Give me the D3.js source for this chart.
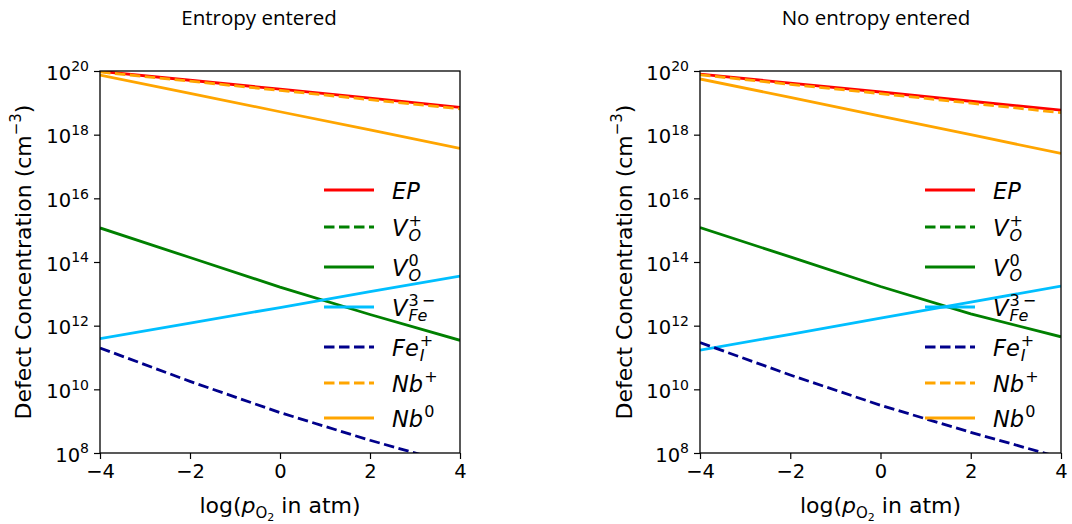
<!DOCTYPE html>
<html>
<head>
<meta charset="utf-8">
<script src="https://cdn.jsdelivr.net/npm/d3@7"></script>
<style>
  body { margin: 0; background: #fff; }
  text { fill: #000; }
</style>
</head>
<body>
<div id="container"></div>
<script>
/* CONSTANTS AND GLOBALS */
const width = 1072, height = 524;

// x values: log(pO2 in atm)
const logP = [-4, -2, 0, 2, 4];

// log10 of defect concentration (cm^-3)
// left panel - entropy entered
const epA   = [19.99, 19.71, 19.43, 19.15, 18.86];
const voPA  = [6.6, 6.0, 5.4, 4.8, 4.2];   // sits under the 1e8 floor
const vo0A  = [15.07, 14.14, 13.21, 12.35, 11.54];
const vfeA  = [11.59, 12.08, 12.57, 13.07, 13.56];
const feiA  = [11.30, 10.25, 9.27, 8.40, 7.60];
const nbPA  = [19.97, 19.68, 19.39, 19.10, 18.81];
const nb0A  = [19.87, 19.30, 18.72, 18.15, 17.57];

// right panel - no entropy entered
const epB   = [19.90, 19.62, 19.34, 19.05, 18.77];
const voPB  = [6.5, 5.9, 5.3, 4.7, 4.1];
const vo0B  = [15.08, 14.16, 13.23, 12.37, 11.65];
const vfeB  = [11.23, 11.73, 12.24, 12.74, 13.24];
const feiB  = [11.47, 10.45, 9.50, 8.65, 7.85];
const nbPB  = [19.88, 19.58, 19.29, 18.99, 18.69];
const nb0B  = [19.75, 19.17, 18.58, 18.00, 17.41];

const titles = ["Entropy entered", "No entropy entered"];
const xTicks = [-4, -2, 0, 2, 4];
const yTickExp = [8, 10, 12, 14, 16, 18, 20];

// legend labels: main / subscript / superscript
const labels = [
  {main: "EP"},
  {main: "V", sub: "O", sup: "+"},
  {main: "V", sub: "O", sup: "0"},
  {main: "V", sub: "Fe", sup: "3\u2009\u2212"},
  {main: "Fe", sub: "I", sup: "+"},
  {main: "Nb", sup: "+"},
  {main: "Nb", sup: "0"}
];
const colors = ["#ff0000", "#008000", "#008000", "#00bfff", "#00008b", "#ffa500", "#ffa500"];
const dashed = [false, true, false, false, true, true, false];

const panels = [
  {ox: 100, pw: 360, titleX: 259, labelX: 31, data: [epA, voPA, vo0A, vfeA, feiA, nbPA, nb0A]},
  {ox: 700, pw: 361, titleX: 876, labelX: 632, data: [epB, voPB, vo0B, vfeB, feiB, nbPB, nb0B]}
];
const plotTop = 71, ph = 382;
const lw = 2.8;

const svg = d3.select("#container").append("svg")
  .attr("width", width).attr("height", height);

const legendY = [190, 227, 267, 307, 347, 383, 418];

panels.forEach((p, pi) => {
  const xScale = d3.scaleLinear().domain([-4, 4]).range([0, p.pw]);
  const yScale = d3.scaleLog().domain([1e8, 1e20]).range([ph, 0]);

  const g = svg.append("g").attr("transform", `translate(${p.ox},${plotTop})`);

  g.append("clipPath").attr("id", "clip" + pi)
    .append("rect").attr("width", p.pw).attr("height", ph);

  const lineGen = d3.line()
    .x((d, i) => xScale(logP[i]))
    .y(d => yScale(Math.pow(10, d)));

  const lines = g.append("g").attr("clip-path", `url(#clip${pi})`);
  p.data.forEach((s, i) => {
    lines.append("path")
      .datum(s)
      .attr("fill", "none")
      .attr("stroke", colors[i])
      .attr("stroke-width", lw)
      .attr("stroke-dasharray", dashed[i] ? "10.5,4.5" : null)
      .attr("d", lineGen);
  });

  // axes
  const yAxis = d3.axisLeft(yScale)
    .tickValues(yTickExp.map(e => Math.pow(10, e)))
    .tickSize(6).tickPadding(5)
    .tickFormat(() => "");
  const ya = g.append("g").call(yAxis);
  ya.select(".domain").remove();
  ya.selectAll(".tick line").attr("stroke", "#000").attr("stroke-width", 1.2);
  ya.selectAll(".tick text")
    .attr("font-family", "DejaVu Sans").attr("font-size", 19.5)
    .attr("dy", "0.42em")
    .each(function(d) {
      const t = d3.select(this);
      t.append("tspan").text("10");
      t.append("tspan").attr("font-size", 14).attr("dy", -8.5)
        .text(Math.round(Math.log10(d)));
    });

  const xAxis = d3.axisBottom(xScale)
    .tickValues(xTicks).tickSize(6).tickPadding(5)
    .tickFormat(d => d < 0 ? "\u2212" + Math.abs(d) : d);
  const xa = g.append("g").attr("transform", `translate(0,${ph})`).call(xAxis);
  xa.select(".domain").remove();
  xa.selectAll(".tick line").attr("stroke", "#000").attr("stroke-width", 1.2);
  xa.selectAll(".tick text").attr("font-family", "DejaVu Sans").attr("font-size", 19.5);

  g.append("rect")
    .attr("width", p.pw).attr("height", ph)
    .attr("fill", "none").attr("stroke", "#000").attr("stroke-width", 1.3);

  // legend, no frame
  const lx = p.pw - 136;
  labels.forEach((lab, i) => {
    const ly = legendY[i] - plotTop;
    g.append("line")
      .attr("x1", lx).attr("x2", lx + 50)
      .attr("y1", ly).attr("y2", ly)
      .attr("stroke", colors[i]).attr("stroke-width", lw)
      .attr("stroke-dasharray", dashed[i] ? "10.5,4.5" : null);
    const tx = lx + 68, ty = ly + 8.5;
    const m = g.append("text")
      .attr("x", tx).attr("y", ty)
      .attr("font-family", "DejaVu Sans").attr("font-style", "italic")
      .attr("font-size", 22.5).text(lab.main);
    const w = m.node().getComputedTextLength() + 1;
    if (lab.sub) {
      g.append("text").attr("x", tx + w).attr("y", ty + 5)
        .attr("font-family", "DejaVu Sans").attr("font-style", "italic")
        .attr("font-size", 16).text(lab.sub);
    }
    if (lab.sup) {
      g.append("text").attr("x", tx + w).attr("y", ty - 10)
        .attr("font-family", "DejaVu Sans")
        .attr("font-size", 16).text(lab.sup);
    }
  });

  // title
  svg.append("text")
    .attr("x", p.titleX).attr("y", 25)
    .attr("text-anchor", "middle")
    .attr("font-family", "Open Sans").attr("font-size", 20.5)
    .text(titles[pi]);

  // x label
  const xl = svg.append("text")
    .attr("x", p.ox + p.pw / 2).attr("y", 513)
    .attr("text-anchor", "middle")
    .attr("font-family", "DejaVu Sans").attr("font-size", 22);
  xl.append("tspan").text("log(");
  xl.append("tspan").attr("font-style", "italic").text("p");
  xl.append("tspan").attr("font-size", 15).attr("dy", 5).text("O");
  xl.append("tspan").attr("font-size", 11).attr("dy", 3).text("2");
  xl.append("tspan").attr("dy", -8).text(" in atm)");

  // y label
  const yl = svg.append("text")
    .attr("transform", `translate(${p.labelX},${plotTop + ph / 2}) rotate(-90)`)
    .attr("text-anchor", "middle")
    .attr("font-family", "DejaVu Sans").attr("font-size", 22);
  yl.append("tspan").text("Defect Concentration (cm");
  yl.append("tspan").attr("font-size", 15).attr("dy", -10).text("\u22123");
  yl.append("tspan").attr("dy", 10).text(")");
});
</script>
</body>
</html>
